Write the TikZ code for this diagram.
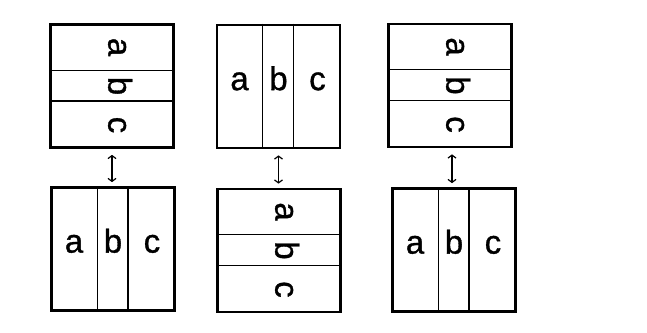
\documentclass[tikz,border=0pt]{standalone}
\usepackage{fontspec}
\setmainfont{Liberation Sans}
\newfontfamily\lblfont[FakeBold=1]{Liberation Sans}
\usetikzlibrary{arrows.meta, calc}

\begin{document}
\begin{tikzpicture}[
  x=1pt, y=-1pt,
  >={Straight Barb[length=3pt, width=8pt]},
  frame/.style = {draw, line width=2.7pt, minimum width=123pt, minimum height=123pt, inner sep=0pt},
  part/.style  = {line width=1.2pt},
  lbl/.style   = {font=\lblfont\fontsize{33}{33}\selectfont, inner sep=0pt, text height=0.72em, text depth=0pt},
  side/.style  = {lbl, rotate=-90},
]
  \useasboundingbox (0,0) rectangle (647,332);

  \node[frame] (T1) at (112,86)    {};
  \node[frame] (T2) at (278.5,86.5) {};
  \node[frame] (T3) at (450,85.5)  {};
  \node[frame] (B1) at (113,249)   {};
  \node[frame] (B2) at (279,250.5) {};
  \node[frame] (B3) at (454,250)   {};

  % stacked parts, letters turned
  \foreach \f in {T1,B2,T3} {
    \draw[part] ($(\f.north west)!.375!(\f.south west)$) -- ($(\f.north east)!.375!(\f.south east)$);
    \draw[part] ($(\f.north west)!.62!(\f.south west)$)  -- ($(\f.north east)!.62!(\f.south east)$);
    \node[side] (\f-a) at ($(\f.north)!.19!(\f.south)$) {a};
    \node[side] (\f-b) at ($(\f.north)!.5!(\f.south)$)  {b};
    \node[side] (\f-c) at ($(\f.north)!.81!(\f.south)$) {c};
  }

  % side by side parts
  \foreach \f in {B1,T2,B3} {
    \draw[part] ($(\f.north west)!.375!(\f.north east)$) -- ($(\f.south west)!.375!(\f.south east)$);
    \draw[part] ($(\f.north west)!.62!(\f.north east)$)  -- ($(\f.south west)!.62!(\f.south east)$);
    \node[lbl] (\f-a) at ($(\f.west)!.19!(\f.east)$) {a};
    \node[lbl] (\f-b) at ($(\f.west)!.5!(\f.east)$)  {b};
    \node[lbl] (\f-c) at ($(\f.west)!.81!(\f.east)$) {c};
  }

  \coordinate (mid3) at ($(T3.south)!.5!(B3.north)$);
  \draw[<->, part, shorten <=6pt, shorten >=4pt] (T1.south) -- (T1.south |- B1.north);
  \draw[<->, part, shorten <=6pt, shorten >=4pt] (T2.south) -- (T2.south |- B2.north);
  \draw[<->, part, shorten <=6pt, shorten >=4pt] (mid3 |- T3.south) -- (mid3 |- B3.north);
\end{tikzpicture}
\end{document}
